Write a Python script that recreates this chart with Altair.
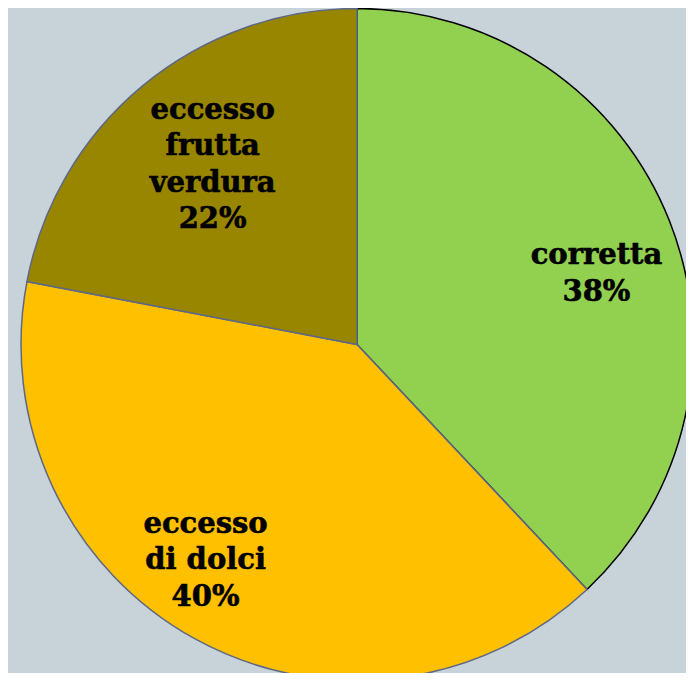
import altair as alt
import pandas as pd

categories = ["corretta", "eccesso di dolci", "eccesso frutta verdura"]
values = [38, 40, 22]
labels = ["corretta\n38%", "eccesso\ndi dolci\n40%", "eccesso\nfrutta\nverdura\n22%"]
order = [1, 2, 3]
fill_colors = ["#92d050", "#ffc000", "#988500"]
stroke_colors = ["#000000", "#5d6886", "#5d6886"]
# small per-label nudges of the label block, in pixels
label_nudges = {"corretta": (7, 3), "eccesso di dolci": (-31, -40), "eccesso frutta verdura": (15, -42)}

df = pd.DataFrame({"cat": categories, "val": values, "label": labels, "ord": order})

base = alt.Chart(df).encode(
    theta=alt.Theta("val:Q", stack=True),
    order=alt.Order("ord:Q"),
    x=alt.value(349),
    y=alt.value(336.5),
)

pie = base.mark_arc(outerRadius=336, strokeWidth=1.5).encode(
    color=alt.Color("cat:N", scale=alt.Scale(domain=categories, range=fill_colors), legend=None),
    stroke=alt.Stroke("cat:N", scale=alt.Scale(domain=categories, range=stroke_colors), legend=None),
)

layers = [pie]
for cat in categories:
    dx, dy = label_nudges[cat]
    layers.append(
        base.mark_text(
            radius=250,
            dx=dx,
            dy=dy,
            font="DejaVu Serif",
            fontWeight="bold",
            fontSize=29,
            lineBreak="\n",
            lineHeight=36.5,
            align="center",
            baseline="middle",
            color="#000000",
            stroke="#000000",
            strokeWidth=0.6,
        ).encode(
            text="label:N",
            opacity=alt.condition(alt.datum.cat == cat, alt.value(1), alt.value(0)),
        )
    )

chart = alt.layer(*layers).properties(
    width=678,
    height=665,
    padding=0,
    autosize=alt.AutoSizeParams(type="none"),
    background="#c7d2d9",
).configure_view(stroke=None, fill="#c7d2d9")

chart.save("out.html", embed_options={"renderer": "svg", "actions": False})
